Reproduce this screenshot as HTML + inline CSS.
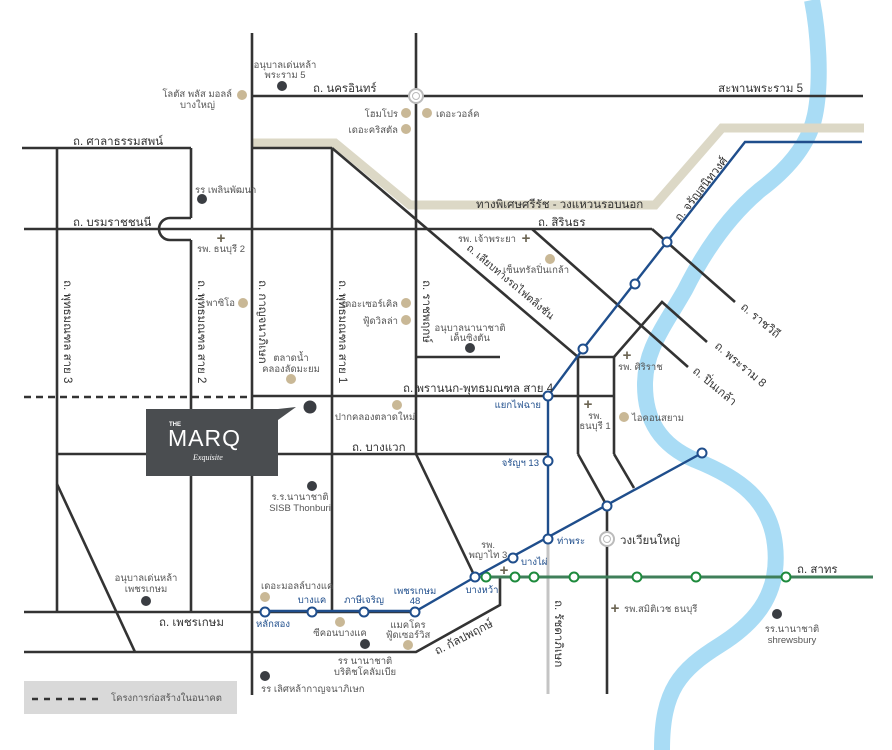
<!DOCTYPE html>
<html><head><meta charset="utf-8"><style>
html,body{margin:0;padding:0;background:#fff;}
svg{display:block;font-family:"Liberation Sans","DejaVu Sans",sans-serif;}
.r{stroke:#333;stroke-width:2.6;fill:none;}
.t{font-size:9.5px;fill:#555;}
.rl{font-size:11.5px;fill:#333;}
.b{font-size:9.5px;fill:#1f4e8c;}
</style></head><body>
<svg width="892" height="750" viewBox="0 0 892 750" xmlns="http://www.w3.org/2000/svg">
<path d="M812,0 C818,30 822,80 815,115 C808,150 780,175 760,190 C730,215 705,250 685,290 C662,330 645,350 645,385 C645,420 660,445 695,460 C740,478 770,500 775,545 C780,590 760,620 720,645 C680,670 662,690 662,750" fill="none" stroke="#a9dcf5" stroke-width="16"/>
<path d="M252,143 L335,143 L410,205 L655,205 L722,128 L864,128" fill="none" stroke="#dcd8c6" stroke-width="9"/>
<g class="r">
<line x1="252" y1="33" x2="252" y2="695"/>
<line x1="416" y1="33" x2="416" y2="454"/>
<line x1="252" y1="96" x2="863" y2="96"/>
<line x1="22" y1="148" x2="191" y2="148"/>
<line x1="57" y1="148" x2="57" y2="612"/>
<line x1="191" y1="148" x2="191" y2="218"/>
<line x1="191" y1="240" x2="191" y2="612"/>
<path d="M191,218 L170,218 A11,11 0 0 0 170,240 L191,240"/>
<line x1="24" y1="229" x2="652" y2="229"/>
<line x1="652" y1="229" x2="735" y2="302"/>
<line x1="252" y1="148" x2="332" y2="148"/>
<line x1="332" y1="148" x2="332" y2="612"/>
<line x1="332" y1="148" x2="578" y2="357"/>
<line x1="532" y1="229" x2="688" y2="367"/>
<path d="M614,357 L662,302 L707,342"/>
<line x1="416" y1="357" x2="500" y2="357"/>
<line x1="578" y1="357" x2="614" y2="357"/>
<line x1="578" y1="357" x2="578" y2="454"/>
<line x1="614" y1="357" x2="614" y2="454"/>
<line x1="578" y1="454" x2="607" y2="506"/>
<line x1="614" y1="454" x2="634" y2="488"/>
<line x1="607" y1="506" x2="607" y2="694"/>
<line x1="252" y1="396" x2="615" y2="396"/>
<line x1="57" y1="454" x2="547" y2="454"/>
<line x1="416" y1="454" x2="475" y2="577"/>
<line x1="57" y1="484" x2="135" y2="652"/>
<line x1="24" y1="612" x2="416" y2="612"/>
<path d="M24,652 L416,652 L500,605 L500,577"/>
</g>
<line x1="24" y1="397" x2="252" y2="397" stroke="#333" stroke-width="2.6" stroke-dasharray="7,5"/>
<line x1="548" y1="540" x2="548" y2="694" stroke="#c4c4c4" stroke-width="3"/>
<line x1="485" y1="577" x2="873" y2="577" stroke="#3f7f5a" stroke-width="3"/>
<g fill="#fff" stroke="#1d8a3c" stroke-width="2">
<circle cx="486" cy="577" r="4.5"/><circle cx="515" cy="577" r="4.5"/><circle cx="534" cy="577" r="4.5"/><circle cx="574" cy="577" r="4.5"/><circle cx="637" cy="577" r="4.5"/><circle cx="696" cy="577" r="4.5"/><circle cx="786" cy="577" r="4.5"/>
</g>
<path d="M862,142 L745,142 L583,349 L548,396 L548,540" fill="none" stroke="#1f4e8c" stroke-width="2.4"/>
<path d="M702,453 L475,577 L416,611 L264,611" fill="none" stroke="#1f4e8c" stroke-width="2.4"/>
<g fill="#fff" stroke="#1f4e8c" stroke-width="2">
<circle cx="667" cy="242" r="4.5"/><circle cx="635" cy="284" r="4.5"/><circle cx="583" cy="349" r="4.5"/><circle cx="548" cy="396" r="4.5"/><circle cx="548" cy="461" r="4.5"/><circle cx="548" cy="539" r="4.5"/>
<circle cx="702" cy="453" r="4.5"/><circle cx="607" cy="506" r="4.5"/><circle cx="513" cy="558" r="4.5"/><circle cx="475" cy="577" r="4.5"/>
<circle cx="415" cy="612" r="4.5"/><circle cx="364" cy="612" r="4.5"/><circle cx="312" cy="612" r="4.5"/><circle cx="265" cy="612" r="4.5"/>
</g>
<circle cx="416" cy="96" r="7" fill="#fff" stroke="#bbb" stroke-width="2"/><circle cx="416" cy="96" r="3.5" fill="none" stroke="#bbb" stroke-width="1"/>
<circle cx="607" cy="539" r="7" fill="#fff" stroke="#bbb" stroke-width="2"/><circle cx="607" cy="539" r="3.5" fill="none" stroke="#bbb" stroke-width="1"/>
<g fill="#c9b896">
<circle cx="242" cy="95" r="5"/><circle cx="406" cy="113" r="5"/><circle cx="427" cy="113" r="5"/><circle cx="406" cy="129" r="5"/>
<circle cx="243" cy="303" r="5"/><circle cx="406" cy="303" r="5"/><circle cx="406" cy="320" r="5"/><circle cx="291" cy="379" r="5"/>
<circle cx="550" cy="259" r="5"/><circle cx="397" cy="405" r="5"/><circle cx="624" cy="417" r="5"/>
<circle cx="265" cy="597" r="5"/><circle cx="340" cy="622" r="5"/><circle cx="408" cy="645" r="5"/>
</g>
<g fill="#3a3d42">
<circle cx="282" cy="86" r="5"/><circle cx="202" cy="199" r="5"/><circle cx="470" cy="348" r="5"/><circle cx="310" cy="407" r="6.5"/>
<circle cx="312" cy="486" r="5"/><circle cx="146" cy="601" r="5"/><circle cx="365" cy="644" r="5"/><circle cx="265" cy="676" r="5"/><circle cx="777" cy="614" r="5"/>
</g>
<g font-size="15" font-weight="bold" fill="#6b6452" text-anchor="middle">
<text x="221" y="243">+</text><text x="526" y="243">+</text><text x="627" y="360">+</text><text x="588" y="409">+</text><text x="504" y="575">+</text><text x="615" y="613">+</text>
</g>
<path d="M146,409 L278,409 L296,407 L278,420 L278,476 L146,476 Z" fill="#4a4d50"/>
<text x="169" y="426" font-size="6" font-weight="bold" fill="#fff">THE</text>
<text x="168" y="446" font-size="23" fill="#fff" letter-spacing="1">MARQ</text>
<text x="193" y="460" font-size="8" font-style="italic" fill="#fff" font-family="Liberation Serif,serif">Exquisite</text>
<rect x="24" y="681" width="213" height="33" fill="#d9d9d9"/>
<line x1="32" y1="699" x2="100" y2="699" stroke="#333" stroke-width="2.4" stroke-dasharray="6,6"/>
<text x="111" y="701" class="t" font-size="10.5">โครงการก่อสร้างในอนาคต</text>
<g class="rl">
<text x="313" y="92">ถ. นครอินทร์</text>
<text x="803" y="92" text-anchor="end">สะพานพระราม 5</text>
<text x="73" y="145">ถ. ศาลาธรรมสพน์</text>
<text x="73" y="226">ถ. บรมราชชนนี</text>
<text x="538" y="226">ถ. สิรินธร</text>
<text x="476" y="208">ทางพิเศษศรีรัช - วงแหวนรอบนอก</text>
<text x="403" y="392">ถ. พรานนก-พุทธมณฑล สาย 4</text>
<text x="352" y="451">ถ. บางแวก</text>
<text x="159" y="626">ถ. เพชรเกษม</text>
<text x="797" y="573">ถ. สาทร</text>
<text x="620" y="544">วงเวียนใหญ่</text>
<text transform="translate(64,280) rotate(90)">ถ. พุทธมณฑล สาย 3</text>
<text transform="translate(198,280) rotate(90)">ถ. พุทธมณฑล สาย 2</text>
<text transform="translate(259,280) rotate(90)">ถ. กาญจนาภิเษก</text>
<text transform="translate(339,280) rotate(90)">ถ. พุทธมณฑล สาย 1</text>
<text transform="translate(423,280) rotate(90)">ถ. ราชพฤกษ์</text>
<text transform="translate(555,600) rotate(90)">ถ. รัชดาภิเษก</text>
<text transform="translate(466,249) rotate(40)" font-size="10.5">ถ. เลียบทางรถไฟตลิ่งชัน</text>
<text transform="translate(680,222) rotate(-52)">ถ. จรัญสนิทวงศ์</text>
<text transform="translate(740,308) rotate(40)">ถ. ราชวิถี</text>
<text transform="translate(714,347) rotate(40)">ถ. พระราม 8</text>
<text transform="translate(692,372) rotate(40)">ถ. ปิ่นเกล้า</text>
<text transform="translate(437,655) rotate(-27)">ถ. กัลปพฤกษ์</text>
</g>
<g class="t">
<text x="285" y="68" text-anchor="middle">อนุบาลเด่นหล้า</text><text x="285" y="78" text-anchor="middle">พระราม 5</text>
<text x="232" y="97" text-anchor="end">โลตัส พลัส มอลล์</text><text x="215" y="108" text-anchor="end">บางใหญ่</text>
<text x="398" y="117" text-anchor="end">โฮมโปร</text><text x="436" y="117">เดอะวอล์ค</text>
<text x="398" y="133" text-anchor="end">เดอะคริสตัล</text>
<text x="195" y="193">รร เพลินพัฒนา</text>
<text x="221" y="252" text-anchor="middle">รพ. ธนบุรี 2</text>
<text x="235" y="306" text-anchor="end">พาซิโอ</text>
<text x="398" y="307" text-anchor="end">เดอะเซอร์เคิล</text><text x="398" y="324" text-anchor="end">ฟู้ดวิลล่า</text>
<text x="291" y="361" text-anchor="middle">ตลาดน้ำ</text><text x="291" y="372" text-anchor="middle">คลองลัดมะยม</text>
<text x="470" y="331" text-anchor="middle">อนุบาลนานาชาติ</text><text x="470" y="341" text-anchor="middle">เค็นซิงตัน</text>
<text x="516" y="242" text-anchor="end">รพ. เจ้าพระยา</text>
<text x="536" y="273" text-anchor="middle">เซ็นทรัลปิ่นเกล้า</text>
<text x="618" y="370">รพ. ศิริราช</text>
<text x="375" y="420" text-anchor="middle">ปากคลองตลาดใหม่</text>
<text x="595" y="419" text-anchor="middle">รพ.</text><text x="595" y="429" text-anchor="middle">ธนบุรี 1</text>
<text x="632" y="421">ไอคอนสยาม</text>
<text x="300" y="500" text-anchor="middle">ร.ร.นานาชาติ</text><text x="300" y="511" text-anchor="middle">SISB Thonburi</text>
<text x="488" y="548" text-anchor="middle">รพ.</text><text x="488" y="558" text-anchor="middle">พญาไท 3</text>
<text x="146" y="581" text-anchor="middle">อนุบาลเด่นหล้า</text><text x="146" y="592" text-anchor="middle">เพชรเกษม</text>
<text x="261" y="589">เดอะมอลล์บางแค</text>
<text x="340" y="636" text-anchor="middle">ซีคอนบางแค</text>
<text x="408" y="628" text-anchor="middle">แมคโคร</text><text x="408" y="638" text-anchor="middle">ฟู้ดเซอร์วิส</text>
<text x="365" y="664" text-anchor="middle">รร นานาชาติ</text><text x="365" y="675" text-anchor="middle">บริติชโคลัมเบีย</text>
<text x="261" y="692">รร เลิศหล้ากาญจนาภิเษก</text>
<text x="624" y="612">รพ.สมิติเวช ธนบุรี</text>
<text x="792" y="632" text-anchor="middle">รร.นานาชาติ</text><text x="792" y="643" text-anchor="middle">shrewsbury</text>
</g>
<g class="b">
<text x="541" y="408" text-anchor="end">แยกไฟฉาย</text>
<text x="539" y="466" text-anchor="end">จรัญฯ 13</text>
<text x="557" y="544">ท่าพระ</text>
<text x="521" y="565">บางไผ่</text>
<text x="482" y="593" text-anchor="middle">บางหว้า</text>
<text x="312" y="603" text-anchor="middle">บางแค</text>
<text x="364" y="603" text-anchor="middle">ภาษีเจริญ</text>
<text x="415" y="594" text-anchor="middle">เพชรเกษม</text><text x="415" y="604" text-anchor="middle">48</text>
<text x="256" y="627">หลักสอง</text>
</g>
</svg>
</body></html>
